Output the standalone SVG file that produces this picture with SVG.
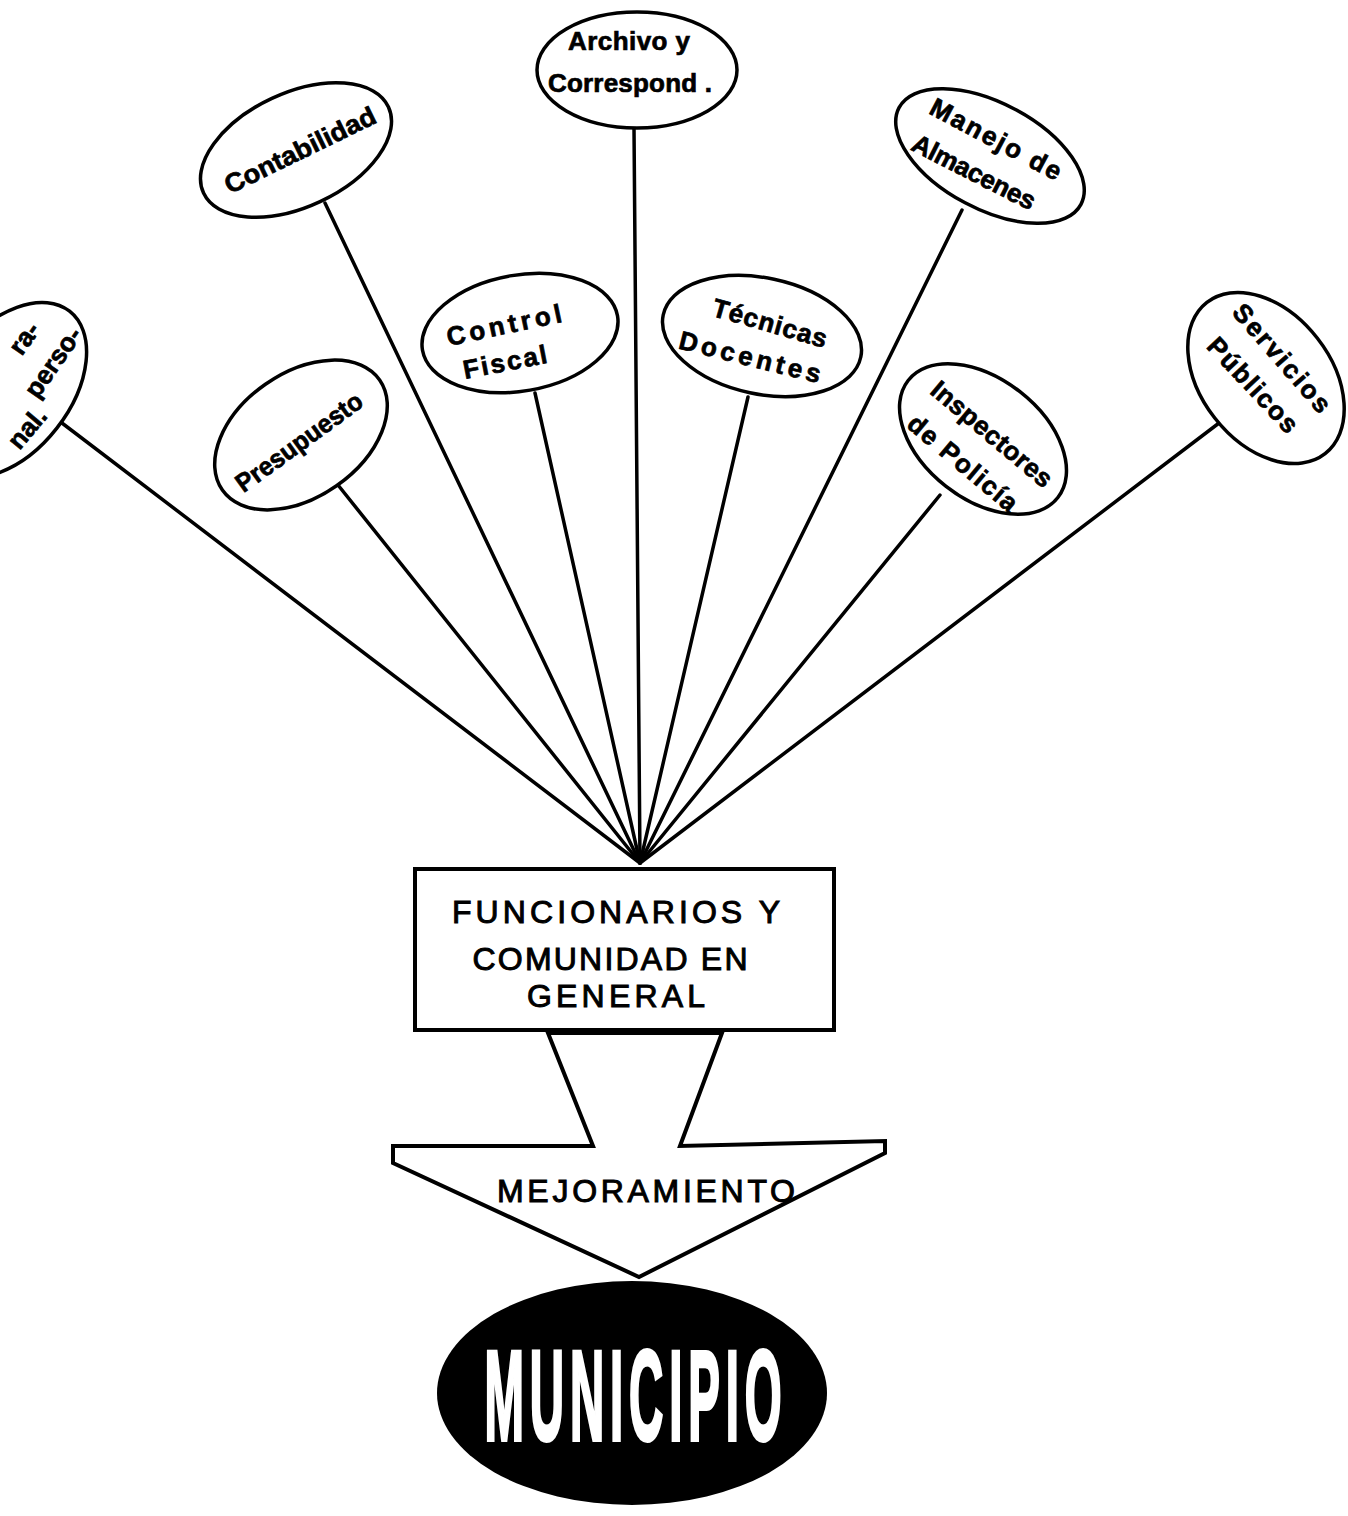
<svg xmlns="http://www.w3.org/2000/svg" width="1348" height="1516" viewBox="0 0 1348 1516">
<style>
.bg{fill:#fff}
.node{fill:#fff;stroke:#000;stroke-width:3.5}
.conn line{stroke:#000;stroke-width:3.5;stroke-linecap:round}
.lbl{font-family:"Liberation Sans",Arial,sans-serif;font-weight:bold;font-size:26px;fill:#000;stroke:#000;stroke-width:0.7;text-anchor:middle}
.box{fill:#fff;stroke:#000;stroke-width:4}
.boxt{font-family:"Liberation Sans",Arial,sans-serif;font-size:32px;fill:#000;stroke:#000;stroke-width:1;text-anchor:middle}
.muni{font-family:"Liberation Sans",Arial,sans-serif;font-weight:bold;font-size:128px;fill:#fff;stroke:#fff;stroke-width:4;text-anchor:middle;letter-spacing:16px}
</style>
<rect class="bg" x="0" y="0" width="1348" height="1516"/>
<g id="connectors" class="conn">
<line x1="58" y1="420" x2="640" y2="863"/>
<line x1="338" y1="485" x2="640" y2="863"/>
<line x1="325" y1="203" x2="640" y2="863"/>
<line x1="535" y1="393" x2="640" y2="863"/>
<line x1="634" y1="128" x2="640" y2="863"/>
<line x1="748" y1="397" x2="640" y2="863"/>
<line x1="962" y1="210" x2="640" y2="863"/>
<line x1="940" y1="495" x2="640" y2="863"/>
<line x1="1223" y1="420" x2="640" y2="863"/>
</g>
<g id="n-admin">
<ellipse class="node" cx="8" cy="390" rx="100" ry="62" transform="rotate(-52 8 390)"/>
<text class="lbl" transform="translate(24 338) rotate(-55)" y="9">ra-</text>
<text class="lbl" transform="translate(53 362) rotate(-55)" y="9">perso-</text>
<text class="lbl" transform="translate(27 428) rotate(-50)" y="9">nal.</text>
</g>
<g id="n-presupuesto">
<ellipse class="node" cx="301" cy="435" rx="96" ry="62" transform="rotate(-35 301 435)"/>
<text class="lbl" transform="translate(299 442) rotate(-36)" y="9" textLength="150" lengthAdjust="spacingAndGlyphs">Presupuesto</text>
</g>
<g id="n-contabilidad">
<ellipse class="node" cx="296" cy="150" rx="102" ry="57" transform="rotate(-25 296 150)"/>
<text class="lbl" transform="translate(300 150) rotate(-26)" y="9" textLength="165" lengthAdjust="spacingAndGlyphs">Contabilidad</text>
</g>
<g id="n-control">
<ellipse class="node" cx="520" cy="333" rx="99" ry="58" transform="rotate(-10 520 333)"/>
<text class="lbl" transform="translate(504 325) rotate(-12)" y="9" textLength="117" lengthAdjust="spacing">Control</text>
<text class="lbl" transform="translate(505 362) rotate(-11)" y="9" textLength="85" lengthAdjust="spacing">Fiscal</text>
</g>
<g id="n-archivo">
<ellipse class="node" cx="637" cy="70" rx="100" ry="58"/>
<text class="lbl" x="629" y="50" textLength="122" lengthAdjust="spacing">Archivo y</text>
<text class="lbl" x="630" y="92" textLength="164" lengthAdjust="spacing">Correspond .</text>
</g>
<g id="n-tecnicas">
<ellipse class="node" cx="762" cy="336" rx="101" ry="58" transform="rotate(12 762 336)"/>
<text class="lbl" transform="translate(770 323) rotate(16)" y="9" textLength="118" lengthAdjust="spacing">Técnicas</text>
<text class="lbl" transform="translate(750 357) rotate(14)" y="9" textLength="145" lengthAdjust="spacing">Docentes</text>
</g>
<g id="n-manejo">
<ellipse class="node" cx="990" cy="156" rx="103" ry="53" transform="rotate(28 990 156)"/>
<text class="lbl" transform="translate(996 139) rotate(28)" y="9" textLength="145" lengthAdjust="spacing">Manejo  de</text>
<text class="lbl" transform="translate(974 172) rotate(27)" y="9" textLength="135" lengthAdjust="spacing">Almacenes</text>
</g>
<g id="n-inspectores">
<ellipse class="node" cx="983" cy="439" rx="95" ry="60" transform="rotate(38 983 439)"/>
<text class="lbl" transform="translate(992 434) rotate(40)" y="9" textLength="150" lengthAdjust="spacing">Inspectores</text>
<text class="lbl" transform="translate(963 463) rotate(40)" y="9" textLength="135" lengthAdjust="spacing">de Policía</text>
</g>
<g id="n-servicios">
<ellipse class="node" cx="1266" cy="378" rx="96" ry="65" transform="rotate(52 1266 378)"/>
<text class="lbl" transform="translate(1282 358) rotate(49)" y="9" textLength="135" lengthAdjust="spacing">Servicios</text>
<text class="lbl" transform="translate(1253 385) rotate(47)" y="9" textLength="120" lengthAdjust="spacing">Públicos</text>
</g>
<g id="n-funcionarios">
<rect class="box" x="415" y="869" width="419" height="161"/>
<text class="boxt" x="616" y="923" textLength="328" lengthAdjust="spacing">FUNCIONARIOS Y</text>
<text class="boxt" x="610" y="970" textLength="275" lengthAdjust="spacing">COMUNIDAD EN</text>
<text class="boxt" x="616" y="1007" textLength="178" lengthAdjust="spacing">GENERAL</text>
</g>
<g id="n-mejoramiento">
<polygon class="box" points="548,1033 593,1146 393,1146 393,1163 639,1277 885,1153 885,1141 680,1146 722,1033"/>
<text class="boxt" x="646" y="1202" font-size="34" textLength="298" lengthAdjust="spacing">MEJORAMIENTO</text>
</g>
<g id="n-municipio">
<ellipse cx="632" cy="1393" rx="195" ry="112" fill="#000"/>
<text class="muni" transform="translate(636 1440) scale(0.37 1)" x="0" y="0">MUNICIPIO</text>
</g>
</svg>
